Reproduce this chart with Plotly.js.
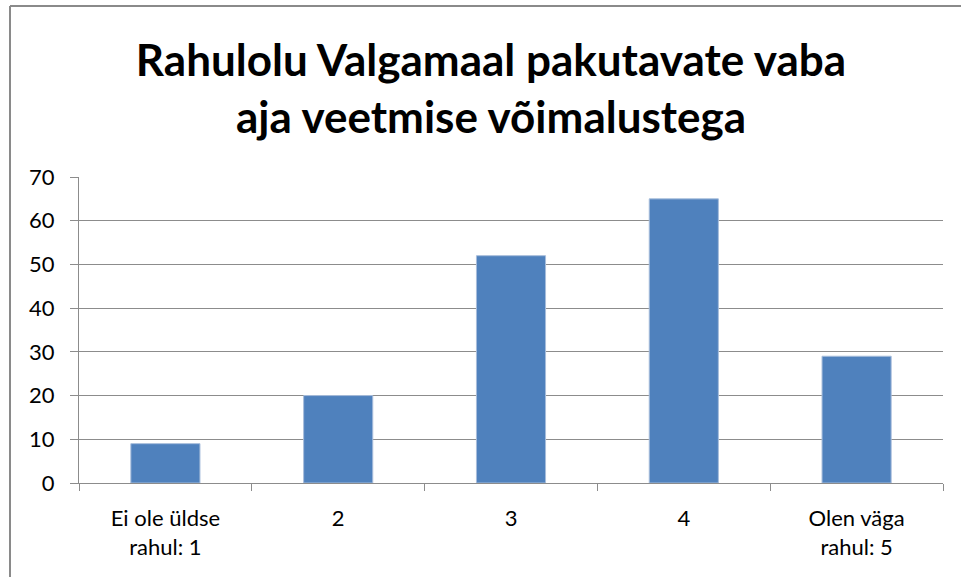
<!DOCTYPE html>
<html>
<head>
<meta charset="utf-8">
<script src="https://cdn.plot.ly/plotly-3.0.1.min.js"></script>
<style>html,body{margin:0;padding:0;background:#fff;}#chart{width:961px;height:577px;}</style>
</head>
<body>
<div id="chart"></div>
<script>
const categories = ["Ei ole üldse<br>rahul: 1", "2", "3", "4", "Olen väga<br>rahul: 5"];
const values = [9, 20, 52, 65, 29];
const titleText = "Rahulolu Valgamaal pakutavate vaba<br>aja veetmise võimalustega";

const FONT = "Lato, 'Liberation Sans', sans-serif";
const GRID = "#8c8c8c";
const BORDER = "#8a8a8a";

const data = [{
  type: "bar",
  x: categories,
  y: values,
  marker: { color: "#4f81bd", line: { color: "#a7bddb", width: 1 } },
  hoverinfo: "x+y"
}];

const pxX = p => (p - 79) / 864;
const pxY = p => (483 - p) / 306;

const layout = {
  width: 961, height: 577,
  margin: { l: 79, r: 18, t: 177, b: 94, pad: 0 },
  paper_bgcolor: "#ffffff",
  plot_bgcolor: "#ffffff",
  showlegend: false,
  bargap: 0.6,
  font: { family: FONT, size: 22, color: "#000000" },
  title: {
    text: titleText,
    font: { family: FONT, size: 44, color: "#000000", weight: "bold" },
    x: 491 / 961, xanchor: "center", xref: "container",
    y: 1 - 76 / 577, yanchor: "top", yref: "container"
  },
  xaxis: {
    type: "category",
    showline: true, linecolor: GRID, linewidth: 1,
    showgrid: false, zeroline: false,
    ticks: "outside", tickson: "boundaries", ticklen: 7, tickcolor: GRID, tickwidth: 1,
    tickfont: { family: FONT, size: 22, color: "#000" },
    ticklabelstandoff: 16
  },
  yaxis: {
    range: [0, 70], dtick: 10, tick0: 0,
    showline: true, linecolor: GRID, linewidth: 1,
    showgrid: true, gridcolor: GRID, gridwidth: 1,
    zeroline: false,
    ticks: "outside", ticklen: 8, tickcolor: GRID, tickwidth: 1,
    tickfont: { family: FONT, size: 22, color: "#000" },
    ticklabelstandoff: 11
  },
  shapes: [
    { type: "line", xref: "paper", yref: "paper",
      x0: pxX(10), x1: pxX(10), y0: pxY(600), y1: pxY(6),
      line: { color: BORDER, width: 2 }, layer: "above" },
    { type: "line", xref: "paper", yref: "paper",
      x0: pxX(10), x1: pxX(1000), y0: pxY(6), y1: pxY(6),
      line: { color: BORDER, width: 2 }, layer: "above" }
  ]
};

Plotly.newPlot("chart", data, layout, { displayModeBar: false, staticPlot: true });
</script>
</body>
</html>
